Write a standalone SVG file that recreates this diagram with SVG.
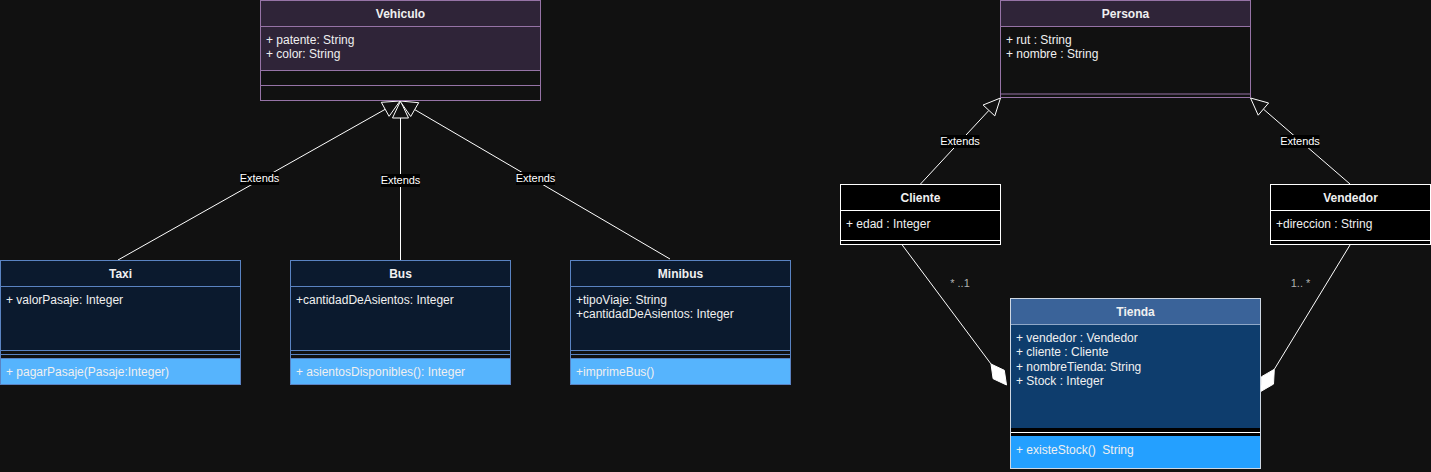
<svg xmlns="http://www.w3.org/2000/svg" width="1431" height="472" viewBox="0 0 1431 472">
<style>
text{font-family:"Liberation Sans",Arial,sans-serif;font-size:12px;fill:#f0f0f0}
.t{font-weight:bold;text-anchor:middle}
.lbl{font-size:11px;text-anchor:middle;fill:#ffffff}
.mul{font-size:11px;text-anchor:middle;fill:#b0b0b0}
.ln{stroke:#ffffff;stroke-width:1;fill:none}
.tri{fill:#111111;stroke:#ffffff;stroke-width:1}
.dia{fill:#ffffff;stroke:#ffffff;stroke-width:1}
.pur{stroke:#9673a6;stroke-width:1}
.blu{stroke:#5a83c2;stroke-width:1}
.wht{stroke:#ffffff;stroke-width:1}
</style>
<rect x="0" y="0" width="1431" height="472" fill="#111111"/>
<g id="connectors">
  <line class="ln" x1="118" y1="260" x2="385.2" y2="109.3"/>
  <polygon class="tri" points="400,101 381.3,102.3 389.1,116.3"/>
  <line class="ln" x1="400.5" y1="260" x2="400.5" y2="118"/>
  <polygon class="tri" points="400.5,101 392.5,118 408.5,118"/>
  <line class="ln" x1="670" y1="259" x2="414.7" y2="109.6"/>
  <polygon class="tri" points="400,101 418.7,102.7 410.7,116.5"/>
  <rect x="240" y="172" width="39" height="13" fill="#000000"/>
  <text class="lbl" x="259.5" y="182">Extends</text>
  <rect x="381" y="174" width="39" height="13" fill="#000000"/>
  <text class="lbl" x="400.5" y="184">Extends</text>
  <rect x="516" y="172" width="39" height="13" fill="#000000"/>
  <text class="lbl" x="535.5" y="182">Extends</text>

  <line class="ln" x1="920.5" y1="184" x2="988.9" y2="110.4"/>
  <polygon class="tri" points="1000.5,98 983.1,105 994.8,115.9"/>
  <rect x="940.5" y="135" width="39" height="13" fill="#000000"/>
  <text class="lbl" x="960" y="145">Extends</text>
  <line class="ln" x1="1350" y1="184" x2="1263.4" y2="109.1"/>
  <polygon class="tri" points="1250.5,98 1268.6,103 1258.2,115.2"/>
  <rect x="1280.5" y="135" width="39" height="13" fill="#000000"/>
  <text class="lbl" x="1300" y="145">Extends</text>

  <line class="ln" x1="901.5" y1="244" x2="991" y2="364"/>
  <polygon class="dia" points="991,364 1004.3,370.3 1006.5,385 993.1,378.7"/>
  <text class="mul" x="960" y="287">* ..1</text>
  <line class="ln" x1="1350" y1="245" x2="1274.3" y2="369.3"/>
  <polygon class="dia" points="1274.3,369.3 1273.5,384.1 1260.7,391.5 1261.5,376.7"/>
  <text class="mul" x="1300.5" y="287">1.. *</text>
</g>
<g id="Vehiculo">
  <rect x="260.5" y="0.5" width="280" height="70" fill="#2f2438"/>
  <rect x="260.5" y="0.5" width="280" height="100" fill="none" class="pur"/>
  <line class="pur" x1="260.5" y1="26.5" x2="540.5" y2="26.5"/>
  <line class="pur" x1="260.5" y1="70.5" x2="540.5" y2="70.5"/>
  <line class="pur" x1="260.5" y1="85.5" x2="540.5" y2="85.5"/>
  <text class="t" x="400.5" y="18">Vehiculo</text>
  <text x="266" y="44">+ patente: String</text>
  <text x="266" y="58">+ color: String</text>
</g>
<g id="Taxi">
  <rect x="0.5" y="260.5" width="240" height="90" fill="#0b1a2e" class="blu"/>
  <line class="blu" x1="0.5" y1="286.5" x2="240.5" y2="286.5"/>
  <line class="blu" x1="0.5" y1="354.5" x2="240.5" y2="354.5"/>
  <rect x="0.5" y="358.5" width="240" height="26" fill="#56b4fd" class="blu"/>
  <line class="blu" x1="0.5" y1="350.5" x2="0.5" y2="358.5"/>
  <line class="blu" x1="240.5" y1="350.5" x2="240.5" y2="358.5"/>
  <text class="t" x="120.5" y="277.5">Taxi</text>
  <text x="6" y="303.5">+ valorPasaje: Integer</text>
  <text x="6" y="376">+ pagarPasaje(Pasaje:Integer)</text>
</g>
<g id="Bus">
  <rect x="290.5" y="260.5" width="220" height="90" fill="#0b1a2e" class="blu"/>
  <line class="blu" x1="290.5" y1="286.5" x2="510.5" y2="286.5"/>
  <line class="blu" x1="290.5" y1="354.5" x2="510.5" y2="354.5"/>
  <rect x="290.5" y="358.5" width="220" height="26" fill="#56b4fd" class="blu"/>
  <line class="blu" x1="290.5" y1="350.5" x2="290.5" y2="358.5"/>
  <line class="blu" x1="510.5" y1="350.5" x2="510.5" y2="358.5"/>
  <text class="t" x="400.5" y="277.5">Bus</text>
  <text x="296" y="303.5">+cantidadDeAsientos: Integer</text>
  <text x="296" y="376">+ asientosDisponibles(): Integer</text>
</g>
<g id="Minibus">
  <rect x="570.5" y="260.5" width="220" height="90" fill="#0b1a2e" class="blu"/>
  <line class="blu" x1="570.5" y1="286.5" x2="790.5" y2="286.5"/>
  <line class="blu" x1="570.5" y1="354.5" x2="790.5" y2="354.5"/>
  <rect x="570.5" y="358.5" width="220" height="26" fill="#56b4fd" class="blu"/>
  <line class="blu" x1="570.5" y1="350.5" x2="570.5" y2="358.5"/>
  <line class="blu" x1="790.5" y1="350.5" x2="790.5" y2="358.5"/>
  <text class="t" x="680.5" y="277.5">Minibus</text>
  <text x="576" y="303.5">+tipoViaje: String</text>
  <text x="576" y="317.5">+cantidadDeAsientos: Integer</text>
  <text x="576" y="376">+imprimeBus()</text>
</g>
<g id="Persona">
  <rect x="1000.5" y="0.5" width="250" height="26" fill="#2f2438"/>
  <rect x="1000.5" y="0.5" width="250" height="97" fill="none" class="pur"/>
  <line class="pur" x1="1000.5" y1="26.5" x2="1250.5" y2="26.5"/>
  <line class="pur" x1="1000.5" y1="94" x2="1250.5" y2="94"/>
  <text class="t" x="1125.5" y="18">Persona</text>
  <text x="1006" y="44">+ rut : String</text>
  <text x="1006" y="58">+ nombre : String</text>
</g>
<g id="Cliente">
  <rect x="840.5" y="184.5" width="160" height="60" fill="#000000" class="wht"/>
  <line class="wht" x1="840.5" y1="210.5" x2="1000.5" y2="210.5"/>
  <line class="wht" x1="840.5" y1="240.5" x2="1000.5" y2="240.5"/>
  <text class="t" x="920.5" y="201.5">Cliente</text>
  <text x="846" y="228">+ edad : Integer</text>
</g>
<g id="Vendedor">
  <rect x="1270.5" y="184.5" width="160" height="60" fill="#000000" class="wht"/>
  <line class="wht" x1="1270.5" y1="210.5" x2="1430.5" y2="210.5"/>
  <line class="wht" x1="1270.5" y1="240.5" x2="1430.5" y2="240.5"/>
  <text class="t" x="1350.5" y="201.5">Vendedor</text>
  <text x="1276" y="228">+direccion : String</text>
</g>
<g id="Tienda">
  <rect x="1010.5" y="298.5" width="250" height="26" fill="#3a6399"/>
  <rect x="1010.5" y="324.5" width="250" height="103.5" fill="#0e3d6d"/>
  <rect x="1010.5" y="428" width="250" height="8" fill="#000000"/>
  <line x1="1010.5" y1="432.5" x2="1260.5" y2="432.5" stroke="#ffffff" stroke-width="1"/>
  <rect x="1010.5" y="436" width="250" height="32.5" fill="#24a0ff"/>
  <line x1="1010.5" y1="324.5" x2="1260.5" y2="324.5" stroke="#8fa8c8" stroke-width="1"/>
  <rect x="1010.5" y="298.5" width="250" height="170" fill="none" stroke="#cfd8e3" stroke-width="1"/>
  <text class="t" x="1135.5" y="315.5">Tienda</text>
  <text x="1016" y="341.5">+ vendedor : Vendedor</text>
  <text x="1016" y="356">+ cliente : Cliente</text>
  <text x="1016" y="370.5">+ nombreTienda: String</text>
  <text x="1016" y="385">+ Stock : Integer</text>
  <text x="1016" y="454" xml:space="preserve">+ existeStock()  String</text>
</g>
</svg>
